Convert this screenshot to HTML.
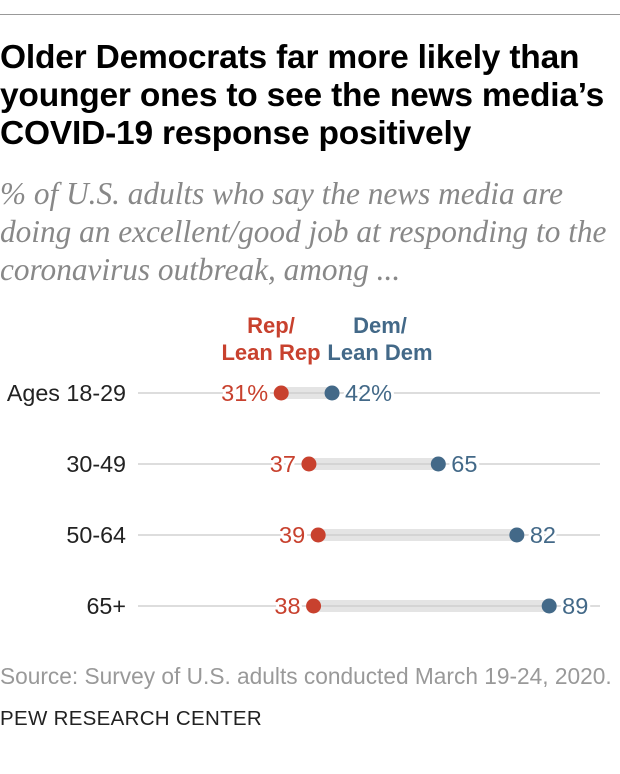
<!DOCTYPE html>
<html><head><meta charset="utf-8"><style>
body{margin:0;background:#fff;width:620px;height:774px;position:relative;font-family:"Liberation Sans",sans-serif;overflow:hidden}
.abs{position:absolute;white-space:nowrap}
</style></head><body>
<div class="abs" style="left:0;top:14px;width:620px;height:1px;background:#999"></div>
<div class="abs" style="left:0;top:39px;font-size:33.5px;font-weight:bold;line-height:38px;color:#000;letter-spacing:-0.2px">Older Democrats far more likely than<br>younger ones to see the news media’s<br>COVID-19 response positively</div>
<div class="abs" style="left:0;top:175px;font-family:'Liberation Serif',serif;font-style:italic;font-size:31.3px;line-height:38px;color:#888">% of U.S. adults who say the news media are<br>doing an excellent/good job at responding to the<br>coronavirus outbreak, among ...</div>
<svg class="abs" style="left:0;top:0" width="620" height="774">
<g id="g"></g>
</svg>
<div class="abs" style="left:0;top:663px;font-size:22.7px;color:#999">Source: Survey of U.S. adults conducted March 19-24, 2020.</div>
<div class="abs" style="left:0;top:707px;font-size:20.5px;color:#222;letter-spacing:0.3px">PEW RESEARCH CENTER</div>
<script>
const categories=["Ages 18-29","30-49","50-64","65+"];
const repValues=[31,37,39,38];
const demValues=[42,65,82,89];
const repLabels=["31%","37","39","38"];
const demLabels=["42%","65","82","89"];
const NS="http://www.w3.org/2000/svg";
const g=document.getElementById('g');
const x=v=>138+v*4.62;
const y=i=>393+i*71;
function mk(t,a,txt){const e=document.createElementNS(NS,t);for(const k in a)e.setAttribute(k,a[k]);if(txt!=null)e.textContent=txt;g.appendChild(e);return e;}
const red="#c8412e",blue="#436988";
let h=mk('text',{x:271,y:333,'text-anchor':'middle','font-size':22,'font-weight':'bold',fill:red,'font-family':'Liberation Sans'},"Rep/");

h=mk('text',{x:271,y:360,'text-anchor':'middle','font-size':22,'font-weight':'bold',fill:red,'font-family':'Liberation Sans'},"Lean Rep");


h=mk('text',{x:380,y:333,'text-anchor':'middle','font-size':22,'font-weight':'bold',fill:blue,'font-family':'Liberation Sans'},"Dem/");

h=mk('text',{x:380,y:360,'text-anchor':'middle','font-size':22,'font-weight':'bold',fill:blue,'font-family':'Liberation Sans'},"Lean Dem");

categories.forEach((c,i)=>{
 const yy=y(i);
 let e=mk('line',{x1:x(0),x2:x(100),y1:yy,y2:yy,stroke:'#bbb','stroke-width':1});
 
 e=mk('rect',{x:x(repValues[i]),y:yy-6,width:x(demValues[i])-x(repValues[i]),height:12,fill:'#e4e4e4'});
 
 e=mk('line',{x1:x(repValues[i]),x2:x(demValues[i]),y1:yy,y2:yy,stroke:'#c4c4c4','stroke-width':1});
 
 e=mk('text',{x:126,y:yy+8,'text-anchor':'end','font-size':23.3,fill:'#222','font-family':'Liberation Sans'},c);
 
 const rl=mk('text',{x:x(repValues[i])-13,y:yy+8,'text-anchor':'end','font-size':23.5,fill:red,'font-family':'Liberation Sans',stroke:'#fff','stroke-width':6,'paint-order':'stroke'},repLabels[i]);
 
 const dl=mk('text',{x:x(demValues[i])+13,y:yy+8,'text-anchor':'start','font-size':23.5,fill:blue,'font-family':'Liberation Sans',stroke:'#fff','stroke-width':6,'paint-order':'stroke'},demLabels[i]);
 
 e=mk('circle',{cx:x(repValues[i]),cy:yy,r:7.5,fill:red});
 
 e=mk('circle',{cx:x(demValues[i]),cy:yy,r:7.5,fill:blue});
 
});
</script>
</body></html>
